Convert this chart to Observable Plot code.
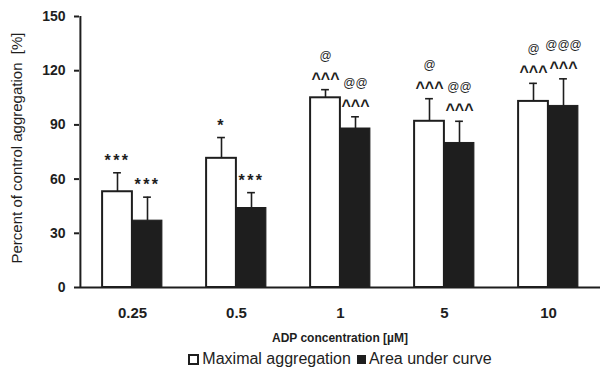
<!DOCTYPE html>
<html>
<head>
<meta charset="utf-8">
<script src="https://cdn.jsdelivr.net/npm/d3@7"></script>
<script src="https://cdn.jsdelivr.net/npm/@observablehq/plot@0.6"></script>
<style>
  html, body { margin: 0; padding: 0; background: #ffffff; }
  body { width: 601px; height: 369px; overflow: hidden; font-family: "Liberation Sans", Arial, sans-serif; }
  #chart svg { display: block; background: #ffffff; }
  .stars text { letter-spacing: 2.5px; }
  .carets text { letter-spacing: 0px; }
  #legend { height: 22px; line-height: 22px; font-size: 16px; color: #222; padding-left: 79px; width: 522px; text-align: center; white-space: nowrap; margin-top: 2px; }
  .sw { display: inline-block; width: 11px; height: 11px; vertical-align: -1px; margin-right: 3px; box-sizing: border-box; }
  .sw.white { border: 2px solid #1e1e1e; background: #fff; }
  .sw.black { background: #1e1e1e; margin-left: 6px; width: 9px; height: 9px; vertical-align: 0px; }
</style>
</head>
<body>
<div id="chart"></div>
<div id="legend"><span class="sw white"></span>Maximal aggregation<span class="sw black"></span>Area under curve</div>
<script>
const concentrations = ["0.25", "0.5", "1", "5", "10"];
const maxAgg = [53, 71.5, 105, 92, 103];
const maxAggErr = [10.5, 11.5, 4.5, 12.5, 10];
const auc = [37, 44, 88, 80, 100.5];
const aucErr = [13, 8.5, 6.5, 12, 15];
const maxAggSig1 = ["***", "*", "^^^", "^^^", "^^^"];
const maxAggSig2 = ["", "", "@", "@", "@"];
const aucSig1 = ["***", "***", "^^^", "^^^", "^^^"];
const aucSig2 = ["", "", "@@", "@@", "@@@"];
const yTicks = [0, 30, 60, 90, 120, 150];
const seriesNames = ["Maximal aggregation", "Area under curve"];

const rows = concentrations.flatMap((c, i) => [
  {c, s: seriesNames[0], v: maxAgg[i], e: maxAgg[i] + maxAggErr[i], t1: maxAggSig1[i], t2: maxAggSig2[i]},
  {c, s: seriesNames[1], v: auc[i], e: auc[i] + aucErr[i], t1: aucSig1[i], t2: aucSig2[i]}
]);
const white = rows.filter(d => d.s === seriesNames[0]);
const black = rows.filter(d => d.s === seriesNames[1]);
const isStar = d => d.t1.startsWith("*");

const half = 52.1, bw = 30, cap = 4;
const ink = "#1e1e1e";

function sigMarks(data, dx) {
  return [
    Plot.text(data.filter(isStar), {x: "c", y: "e", text: "t1", dx, dy: -12, fontSize: 16, fontWeight: "bold", fill: ink, className: "stars"}),
    Plot.text(data.filter(d => !isStar(d)), {x: "c", y: "e", text: "t1", dx, dy: -11, fontSize: 16, fontWeight: "bold", fill: ink, className: "carets"}),
    Plot.text(data, {x: "c", y: "e", text: "t2", dx, dy: -34, fontSize: 12, fill: ink})
  ];
}

const plot = Plot.plot({
  width: 601,
  height: 346,
  marginLeft: 79,
  marginRight: 1,
  marginTop: 16,
  marginBottom: 59,
  style: {fontFamily: "'Liberation Sans', Arial, sans-serif", background: "#fff", color: ink},
  x: {domain: concentrations, padding: 0, axis: null},
  y: {domain: [0, 150], axis: null},
  marks: [
    Plot.barY(white, {x: "c", y: "v", fill: "#fff", stroke: ink, strokeWidth: 2, insetLeft: half - bw, insetRight: half}),
    Plot.barY(black, {x: "c", y: "v", fill: ink, stroke: ink, strokeWidth: 1, insetLeft: half, insetRight: half - bw}),
    Plot.ruleX(white, {x: "c", y1: "v", y2: "e", dx: -bw / 2, stroke: ink, strokeWidth: 1.6}),
    Plot.ruleX(black, {x: "c", y1: "v", y2: "e", dx: bw / 2, stroke: ink, strokeWidth: 1.6}),
    Plot.tickY(white, {x: "c", y: "e", stroke: ink, strokeWidth: 1.6, insetLeft: half - bw / 2 - cap, insetRight: half + bw / 2 - cap}),
    Plot.tickY(black, {x: "c", y: "e", stroke: ink, strokeWidth: 1.6, insetLeft: half + bw / 2 - cap, insetRight: half - bw / 2 - cap}),
    ...sigMarks(white, -bw / 2),
    ...sigMarks(black, bw / 2),
    Plot.ruleY([0], {stroke: ink, strokeWidth: 2}),
    Plot.ruleX([concentrations[0]], {x: d => d, y1: 0, y2: 150, dx: -half, stroke: ink, strokeWidth: 2}),
    Plot.axisY({ticks: yTicks, tickSize: 5, tickPadding: 9, fontSize: 14, fontWeight: "bold", label: null, strokeWidth: 2}),
    Plot.axisX({tickSize: 0, tickPadding: 20, fontSize: 15, fontWeight: "bold", label: null}),
    Plot.text(["ADP concentration [µM]"], {frameAnchor: "bottom", dy: 54, fontSize: 12, fontWeight: "bold", fill: ink}),
    Plot.text(["Percent of control aggregation  [%]"], {frameAnchor: "left", textAnchor: "middle", dx: -62, dy: -4, rotate: -90, fontSize: 15, fill: ink})
  ]
});
document.getElementById("chart").appendChild(plot);
</script>
</body>
</html>
